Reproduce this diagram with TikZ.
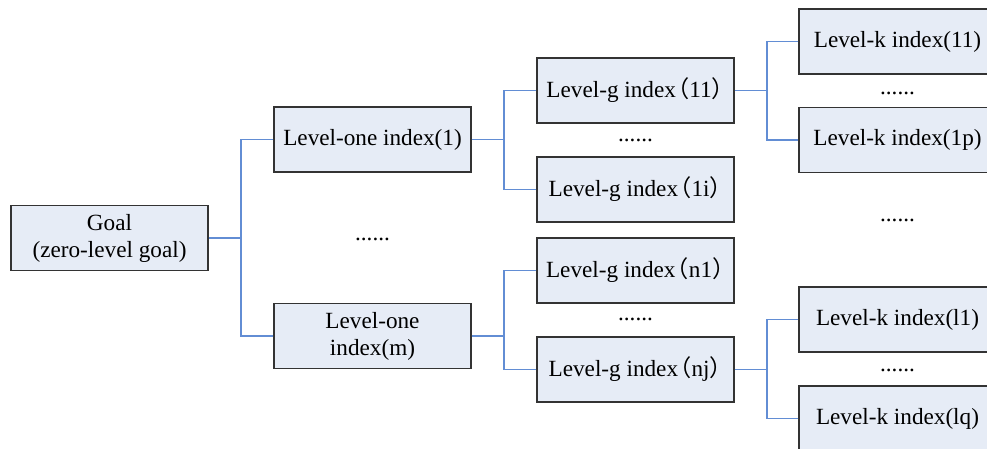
\documentclass[tikz,border=0pt]{standalone}
\usepackage{fontspec}
\setmainfont{Liberation Serif}
\newfontfamily\cjk{Noto Sans CJK SC}
\usepackage{tikz}
\usetikzlibrary{calc}
\definecolor{boxfill}{RGB}{230,236,246}
\definecolor{linkblue}{RGB}{98,141,212}
\newcommand{\lp}{\kern-0.42em{\cjk （}}
\newcommand{\rp}{{\cjk ）}\kern-0.45em}

\begin{document}
\begin{tikzpicture}[x=0.5pt, y=-0.5pt,
        idx/.style={draw=black!80, line width=0.6pt, fill=boxfill, minimum width=98.5pt,
            minimum height=32.5pt, inner sep=0pt, align=center,
            font=\fontsize{11.6}{13.5}\selectfont},
        dots/.style={font=\fontsize{11.6}{13.5}\selectfont, inner sep=0pt},
        link/.style={draw=linkblue, line width=0.6pt}]
        \useasboundingbox (0,0) rectangle (987,449);
        \clip (0,0) rectangle (987,449);
        % goal and level-one
        \node[idx] (goal) at (109.5, 238) {Goal\\(zero-level goal)};
        \node[idx] (one1) at (372.5, 139.5) {Level-one index(1)};
        \node[idx] (onem) at (372.5, 336) {Level-one\\index(m)};
        \node[dots] (d1) at (372.5, 239.5) {......};
        % level-g
        \node[idx] (g11) at (635.5, 90.5) {Level-g index\lp 11\rp};
        \node[idx] (g1i) at (635.5, 189.5) {Level-g index\lp 1i\rp};
        \node[idx] (gn1) at (635.5, 270.5) {Level-g index\lp n1\rp};
        \node[idx] (gnj) at (635.5, 369.5) {Level-g index\lp nj\rp};
        \node[dots] (d2) at (635.5, 140.5) {......};
        \node[dots] (d3) at (635.5, 319.5) {......};
        % level-k
        \node[idx] (k11) at (897.5, 41.5) {Level-k index(11)};
        \node[idx] (k1p) at (897.5, 140) {Level-k index(1p)};
        \node[idx] (kl1) at (897.5, 319.5) {Level-k index(l1)};
        \node[idx] (klq) at (897.5, 418.5) {Level-k index(lq)};
        \node[dots] (d4) at (897.5, 93.5) {......};
        \node[dots] (d5) at (897.5, 220.5) {......};
        \node[dots] (d6) at (897.5, 370.5) {......};
        % junctions
        \coordinate (j0) at (241, 238);
        \coordinate (j1) at (504, 139.5);
        \coordinate (j2) at (504, 336);
        \coordinate (j3) at (767, 90.5);
        \coordinate (j4) at (767, 369.5);
        \draw[link] (goal.east) -- (j0);
        \draw[link] (one1.west) -| (j0);
        \draw[link] (onem.west) -| (j0);
        \draw[link] (one1.east) -- (j1);
        \draw[link] (g11.west) -| (j1);
        \draw[link] (g1i.west) -| (j1);
        \draw[link] (onem.east) -- (j2);
        \draw[link] (gn1.west) -| (j2);
        \draw[link] (gnj.west) -| (j2);
        \draw[link] (g11.east) -- (j3);
        \draw[link] (k11.west) -| (j3);
        \draw[link] (k1p.west) -| (j3);
        \draw[link] (gnj.east) -- (j4);
        \draw[link] (kl1.west) -| (j4);
        \draw[link] (klq.west) -| (j4);
\end{tikzpicture}
\end{document}
